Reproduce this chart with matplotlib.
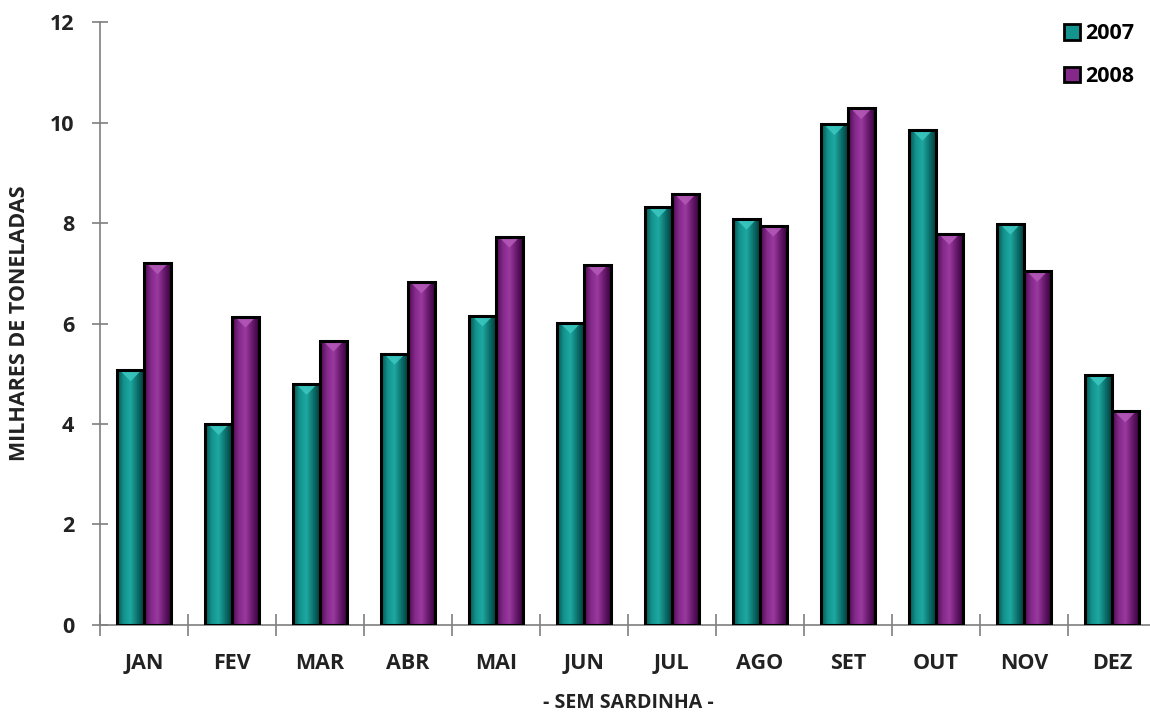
import numpy as np
import matplotlib.pyplot as plt
from matplotlib.colors import LinearSegmentedColormap
from matplotlib.patches import Polygon, Patch

meses = ['JAN', 'FEV', 'MAR', 'ABR', 'MAI', 'JUN', 'JUL', 'AGO', 'SET', 'OUT', 'NOV', 'DEZ']
v2007 = [5.07, 4.00, 4.80, 5.40, 6.16, 6.02, 8.33, 8.09, 9.97, 9.86, 7.99, 4.98]
v2008 = [7.20, 6.14, 5.66, 6.82, 7.73, 7.17, 8.58, 7.95, 10.29, 7.79, 7.05, 4.25]

plt.rcParams['font.family'] = ['Open Sans', 'DejaVu Sans']

teal = LinearSegmentedColormap.from_list('teal', ['#04504d', '#13948f', '#1fa8a2', '#0c7470', '#033c3a'])
purp = LinearSegmentedColormap.from_list('purp', ['#4a0c4c', '#84288a', '#9a3aa0', '#6a1a6e', '#36053a'])
tri_col = {'teal': '#3cc8c2', 'purp': '#b45ab8'}

fig = plt.figure(figsize=(11.5, 7.15), dpi=100)
ax = fig.add_axes([0.087, 0.126, 0.918, 0.843])

x = np.arange(len(meses))
w = 0.305
grad = np.linspace(0, 1, 64).reshape(1, -1)


def draw(vals, offset, cmap, tc):
    bars = ax.bar(x + offset, vals, w, color='none', edgecolor='black', linewidth=2.2, zorder=3)
    for b in bars:
        x0, y0 = b.get_x(), b.get_y()
        bw, bh = b.get_width(), b.get_height()
        im = ax.imshow(grad, cmap=cmap, extent=[x0, x0 + bw, y0, y0 + bh],
                       aspect='auto', zorder=2, interpolation='bicubic')
        im.set_clip_path(b)
        # bevel triangle at top
        th = 0.22
        tri = Polygon([[x0 + 0.03, y0 + bh], [x0 + bw - 0.03, y0 + bh],
                       [x0 + bw / 2, y0 + bh - th]], closed=True,
                      facecolor=tc, edgecolor='none', alpha=0.85, zorder=2.5)
        ax.add_patch(tri)
    return bars


draw(v2007, -w / 2, teal, tri_col['teal'])
draw(v2008, w / 2, purp, tri_col['purp'])

ax.set_xlim(-0.5, 11.5)
ax.set_ylim(0, 12)
ax.set_yticks(range(0, 13, 2))
ax.set_xticks(x)
ax.set_xticklabels(meses)
ax.set_xticks(np.arange(-0.5, 12, 1), minor=True)

for s in ['top', 'right']:
    ax.spines[s].set_visible(False)
for s in ['left', 'bottom']:
    ax.spines[s].set_color('#7f7f7f')
    ax.spines[s].set_linewidth(1.2)

ax.tick_params(axis='x', which='major', length=0, pad=20)
ax.tick_params(axis='x', which='minor', direction='inout', length=16, color='#7f7f7f', width=1.2)
ax.tick_params(axis='y', direction='inout', length=11, color='#7f7f7f', width=1.2, pad=13)
for lab in ax.get_xticklabels() + ax.get_yticklabels():
    lab.set_fontsize(15.5)
    lab.set_fontweight('bold')
    lab.set_color('#222222')

ax.set_ylabel('MILHARES DE TONELADAS', fontsize=15.5, fontweight='bold', color='#222222', labelpad=14)
ax.set_xlabel('- SEM SARDINHA -', fontsize=14, fontweight='bold', color='#222222', labelpad=14)

handles = [Patch(facecolor='#13948f', edgecolor='black', linewidth=2),
           Patch(facecolor='#84288a', edgecolor='black', linewidth=2)]
leg = ax.legend(handles, ['2007', '2008'], loc='upper right', bbox_to_anchor=(0.998, 1.03),
                frameon=False, handlelength=0.75, handleheight=0.75, handletextpad=0.25,
                labelspacing=1.0, prop={'weight': 'bold', 'size': 15.5})

fig.savefig('out.png', dpi=100)
